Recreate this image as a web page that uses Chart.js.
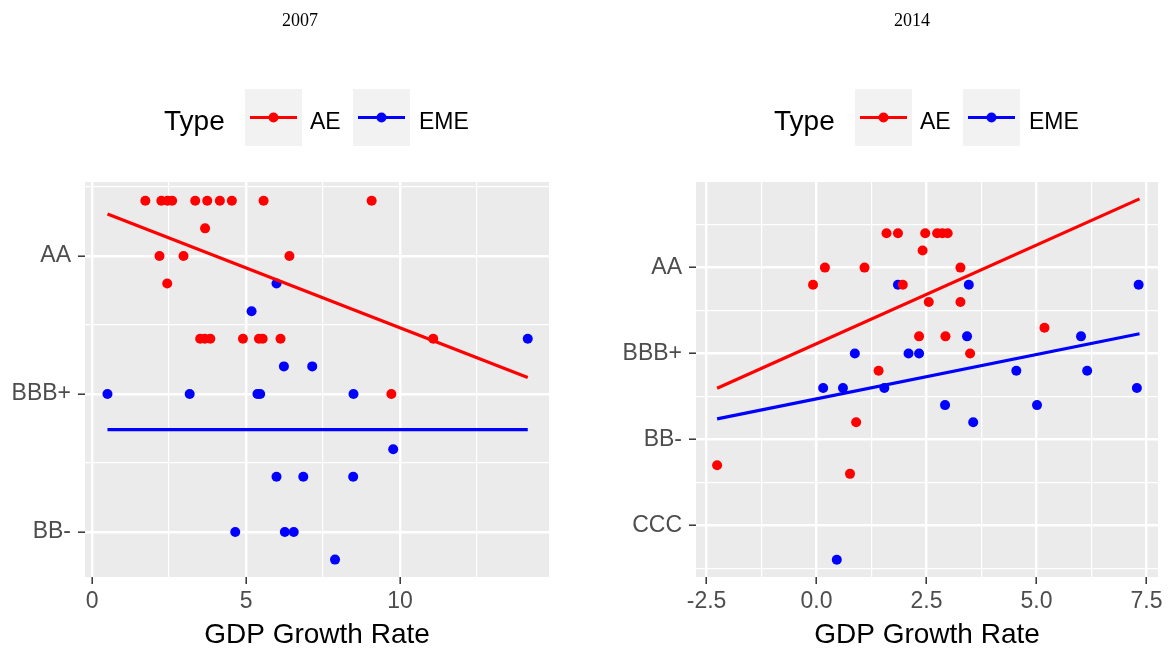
<!DOCTYPE html>
<html>
<head>
<meta charset="utf-8">
<script src="https://cdn.jsdelivr.net/npm/chart.js@4.4.1/dist/chart.umd.min.js"></script>
<style>
  html, body { margin: 0; padding: 0; background: #ffffff; }
  #wrap { position: relative; width: 1168px; height: 652px; overflow: hidden; }
  #c2007 { position: absolute; left: 0; top: 0; }
  #c2014 { position: absolute; left: 610px; top: 0; }
</style>
</head>
<body>
<div id="wrap">
  <canvas id="c2007" width="584" height="652"></canvas>
  <canvas id="c2014" width="558" height="652"></canvas>
</div>
<script>
// ---------------- DATA ----------------
// Rating scale (notches): AAA=20, AA+=19, AA=18, AA-=17, A+=16, A=15, A-=14,
// BBB+=13, BBB=12, BBB-=11, BB+=10, BB=9, BB-=8, B+=7, B=6, ..., CCC=3
const seriesNames = ['AE', 'EME'];
const legendTitle = 'Type';
const xAxisTitle = 'GDP Growth Rate';

// 2007 panel
const title2007 = '2007';
const ratingTicks2007 = [8, 13, 18];
const ratingLabels2007 = ['BB-', 'BBB+', 'AA'];
const gdpTicks2007 = [0, 5, 10];
const gdpTickLabels2007 = ['0', '5', '10'];

const ae2007X = [1.73, 2.25, 2.45, 2.60, 3.35, 3.74, 4.15, 4.54, 5.57, 9.08,
                 3.67,
                 2.19, 2.97, 6.41,
                 2.44,
                 3.51, 3.66, 3.84, 4.90, 5.42, 5.54, 6.12, 11.08,
                 9.72];
const ae2007Y = [20, 20, 20, 20, 20, 20, 20, 20, 20, 20,
                 19,
                 18, 18, 18,
                 17,
                 15, 15, 15, 15, 15, 15, 15, 15,
                 13];
const eme2007X = [5.99, 5.18, 14.15, 6.23, 7.15, 0.50, 3.17, 5.37, 5.46, 8.49,
                  9.78, 5.99, 6.86, 8.48, 4.65, 6.26, 6.55, 7.89];
const eme2007Y = [17, 16, 15, 14, 14, 13, 13, 13, 13, 13,
                  11, 10, 10, 10, 8, 8, 8, 7];
const aeFit2007X = [0.50, 14.15];
const aeFit2007Y = [19.52, 13.60];
const emeFit2007X = [0.50, 14.15];
const emeFit2007Y = [11.71, 11.71];

// 2014 panel
const title2014 = '2014';
const ratingTicks2014 = [3, 8, 13, 18];
const ratingLabels2014 = ['CCC', 'BB-', 'BBB+', 'AA'];
const gdpTicks2014 = [-2.5, 0, 2.5, 5, 7.5];
const gdpTickLabels2014 = ['-2.5', '0.0', '2.5', '5.0', '7.5'];

const ae2014X = [1.59, 1.85, 2.47, 2.74, 2.86, 2.98,
                 2.41,
                 0.19, 1.09, 3.27,
                 -0.08, 1.96,
                 2.55, 3.27,
                 5.18,
                 2.33, 2.93,
                 3.49,
                 1.41,
                 0.90,
                 -2.26,
                 0.76];
const ae2014Y = [20, 20, 20, 20, 20, 20,
                 19,
                 18, 18, 18,
                 17, 17,
                 16, 16,
                 14.5,
                 14, 14,
                 13,
                 12,
                 9,
                 6.5,
                 6];
const eme2014X = [1.85, 3.46, 7.32,
                  3.42, 6.01,
                  0.87, 2.09, 2.33,
                  4.54, 6.15,
                  0.15, 0.60, 1.54, 7.28,
                  2.92, 5.01,
                  3.56,
                  0.46];
const eme2014Y = [17, 17, 17,
                  14, 14,
                  13, 13, 13,
                  12, 12,
                  11, 11, 11, 11,
                  10, 10,
                  9,
                  1];
const aeFit2014X = [-2.26, 7.34];
const aeFit2014Y = [10.98, 22.0];
const emeFit2014X = [-2.26, 7.34];
const emeFit2014Y = [9.20, 14.15];

// ---------------- STYLE ----------------
const RED = '#FF0000';
const BLUE = '#0000FF';
const SANS = '"Liberation Sans", Arial, Helvetica, sans-serif';
const SERIF = '"Liberation Serif", "Times New Roman", serif';

function pts(xs, ys) { return xs.map((x, i) => ({ x: x, y: ys[i] })); }

function minorsFor(majors, min, max) {
  const step = majors[1] - majors[0];
  const out = [];
  for (let v = majors[0] - step / 2; v <= max; v += step) {
    if (v >= min) out.push(v);
  }
  for (let v = majors[0] - step * 1.5; v >= min; v -= step) out.push(v);
  return out;
}

const panelBg = {
  id: 'panelBg',
  beforeDraw(chart) {
    const a = chart.chartArea, ctx = chart.ctx;
    ctx.save();
    ctx.fillStyle = '#EBEBEB';
    ctx.fillRect(a.left, a.top, a.right - a.left, a.bottom - a.top);
    ctx.restore();
  }
};

const header = {
  id: 'header',
  afterDraw(chart, args, opts) {
    const ctx = chart.ctx;
    ctx.save();
    // title
    ctx.fillStyle = '#000000';
    ctx.font = '18px ' + SERIF;
    ctx.textAlign = 'center';
    ctx.textBaseline = 'middle';
    ctx.fillText(opts.title, opts.titleX, 21);
    // legend
    ctx.textAlign = 'left';
    ctx.textBaseline = 'alphabetic';
    ctx.font = '28px ' + SANS;
    ctx.fillStyle = '#000000';
    ctx.fillText(legendTitle, 164, 130);
    const keys = [
      { x: 245, label: chart.data.datasets[0].label, color: chart.data.datasets[0].backgroundColor, tx: 310 },
      { x: 353, label: chart.data.datasets[1].label, color: chart.data.datasets[1].backgroundColor, tx: 419 }
    ];
    keys.forEach(k => {
      ctx.fillStyle = '#F2F2F2';
      ctx.fillRect(k.x, 89, 57, 57);
      ctx.strokeStyle = k.color;
      ctx.lineWidth = 3;
      ctx.beginPath();
      ctx.moveTo(k.x + 5, 117.5);
      ctx.lineTo(k.x + 52, 117.5);
      ctx.stroke();
      ctx.fillStyle = k.color;
      ctx.beginPath();
      ctx.arc(k.x + 28.5, 117.5, 5, 0, Math.PI * 2);
      ctx.fill();
      ctx.fillStyle = '#000000';
      ctx.font = '23px ' + SANS;
      ctx.fillText(k.label, k.tx, 129);
    });
    ctx.restore();
  }
};

function makeChart(id, cfg) {
  const xMinors = minorsFor(cfg.xTicks, cfg.xMin, cfg.xMax);
  const yMinors = minorsFor(cfg.yTicks, cfg.yMin, cfg.yMax);
  const isMinorX = v => !cfg.xTicks.some(t => Math.abs(t - v) < 1e-9);
  const isMinorY = v => !cfg.yTicks.some(t => Math.abs(t - v) < 1e-9);

  const gridCommon = (isMinor) => ({
    color: '#FFFFFF',
    lineWidth: c => (c.tick && isMinor(c.tick.value)) ? 1.2 : 2.4,
    drawTicks: true,
    tickLength: 7,
    tickWidth: 1.5,
    tickColor: c => (c.tick && isMinor(c.tick.value)) ? 'rgba(0,0,0,0)' : '#333333'
  });

  return new Chart(document.getElementById(id), {
    type: 'scatter',
    data: {
      datasets: [
        { label: seriesNames[0], data: pts(cfg.aeX, cfg.aeY), backgroundColor: RED, borderColor: RED,
          pointRadius: 5, pointBorderWidth: 0, order: 2 },
        { label: seriesNames[1], data: pts(cfg.emeX, cfg.emeY), backgroundColor: BLUE, borderColor: BLUE,
          pointRadius: 5, pointBorderWidth: 0, order: 2 },
        { label: seriesNames[0] + ' fit', data: pts(cfg.aeFitX, cfg.aeFitY), showLine: true, borderColor: RED,
          backgroundColor: RED, borderWidth: 3.2, pointRadius: 0, order: 1 },
        { label: seriesNames[1] + ' fit', data: pts(cfg.emeFitX, cfg.emeFitY), showLine: true, borderColor: BLUE,
          backgroundColor: BLUE, borderWidth: 3.2, pointRadius: 0, order: 1 }
      ]
    },
    options: {
      responsive: false,
      animation: false,
      events: [],
      layout: { padding: { top: 182, right: cfg.padRight, left: 0, bottom: 0 } },
      plugins: {
        legend: { display: false },
        tooltip: { enabled: false },
        title: { display: false },
        header: { title: cfg.title, titleX: cfg.titleX }
      },
      scales: {
        x: {
          type: 'linear',
          min: cfg.xMin, max: cfg.xMax,
          afterBuildTicks: s => {
            s.ticks = cfg.xTicks.concat(xMinors).sort((a, b) => a - b).map(v => ({ value: v }));
          },
          afterFit: s => { s.height = 75; },
          ticks: {
            autoSkip: false, maxRotation: 0, minRotation: 0, padding: 4,
            color: '#4D4D4D',
            font: { family: SANS, size: 23 },
            callback: v => { const i = cfg.xTicks.findIndex(t => Math.abs(t - v) < 1e-9); return i >= 0 ? cfg.xLabels[i] : ''; }
          },
          grid: gridCommon(isMinorX),
          border: { display: false },
          title: { display: true, text: xAxisTitle, color: '#000000',
                   font: { family: SANS, size: 28 }, padding: { top: 0, bottom: 0 } }
        },
        y: {
          type: 'linear',
          min: cfg.yMin, max: cfg.yMax,
          afterBuildTicks: s => {
            s.ticks = cfg.yTicks.concat(yMinors).sort((a, b) => a - b).map(v => ({ value: v }));
          },
          afterFit: s => { s.width = cfg.yWidth; },
          ticks: {
            autoSkip: false, padding: 7,
            color: '#4D4D4D',
            font: { family: SANS, size: 23 },
            callback: v => { const i = cfg.yTicks.findIndex(t => Math.abs(t - v) < 1e-9); return i >= 0 ? cfg.yLabels[i] : ''; }
          },
          grid: gridCommon(isMinorY),
          border: { display: false }
        }
      }
    },
    plugins: [panelBg, header]
  });
}

makeChart('c2007', {
  title: title2007, titleX: 300,
  aeX: ae2007X, aeY: ae2007Y, emeX: eme2007X, emeY: eme2007Y,
  aeFitX: aeFit2007X, aeFitY: aeFit2007Y, emeFitX: emeFit2007X, emeFitY: emeFit2007Y,
  xMin: -0.23, xMax: 14.84, yMin: 6.37, yMax: 20.68,
  xTicks: gdpTicks2007, xLabels: gdpTickLabels2007,
  yTicks: ratingTicks2007, yLabels: ratingLabels2007,
  yWidth: 85, padRight: 35
});

makeChart('c2014', {
  title: title2014, titleX: 302,
  aeX: ae2014X, aeY: ae2014Y, emeX: eme2014X, emeY: eme2014Y,
  aeFitX: aeFit2014X, aeFitY: aeFit2014Y, emeFitX: emeFit2014X, emeFitY: emeFit2014Y,
  xMin: -2.74, xMax: 7.76, yMin: 0, yMax: 22.98,
  xTicks: gdpTicks2014, xLabels: gdpTickLabels2014,
  yTicks: ratingTicks2014, yLabels: ratingLabels2014,
  yWidth: 86, padRight: 10
});
</script>
</body>
</html>
